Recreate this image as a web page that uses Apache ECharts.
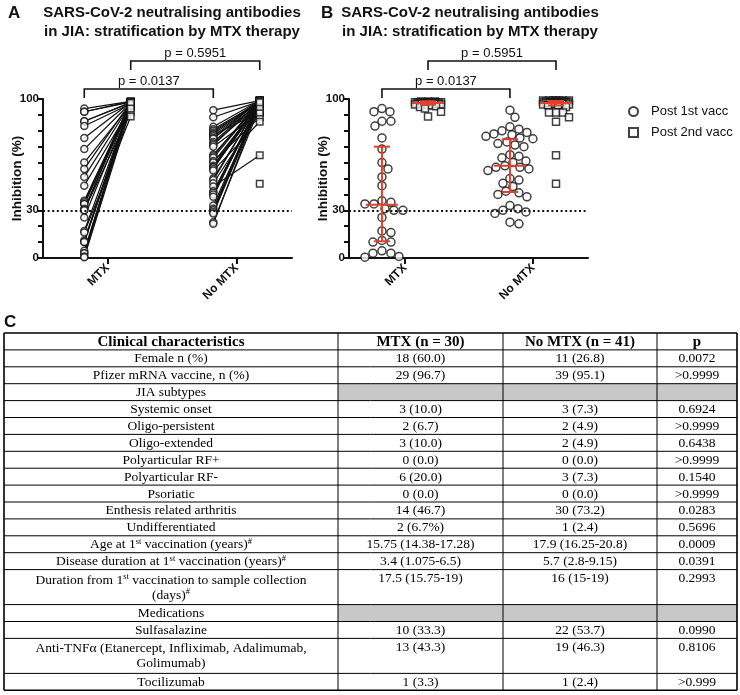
<!DOCTYPE html>
<html>
<head>
<meta charset="utf-8">
<script src="https://cdn.jsdelivr.net/npm/echarts@6/dist/echarts.min.js"></script>
<style>
  body { margin: 0; background: #fff; }
  #main { width: 740px; height: 695px; }
</style>
</head>
<body>
<div id="main"></div>
<script>
// groups on the x axis
const groups = ["MTX", "No MTX"];
const pTexts = ["p = 0.0137", "p = 0.5951"];

// % inhibition per subject (same order in post1 / post2 so lines pair up)
const mtxPost1 = [94, 92, 92, 86, 86, 83, 75.5, 68.5, 60, 56, 51, 45.5, 36, 35, 34, 34, 31, 30, 30, 25.5, 17, 16, 11, 10, 10, 4.5, 3, 3, 1, 0.5];
const mtxPost2 = [98.5, 98, 98.5, 97.5, 98, 97, 98, 97.5, 96.5, 98, 97, 95, 98, 97.5, 96, 98, 97, 92, 98.5, 97, 96.5, 89, 98, 97.5, 95.5, 97, 98, 96, 97.5, 94];
const noMtxPost1 = [93, 88.5, 82.5, 81, 80, 79, 78, 77.5, 76.5, 75.5, 75, 73, 72, 71, 70, 65, 64, 63, 61, 60, 58, 57, 57, 56, 55, null, 50, 49, 47, 45, 42, 41, 40, 38.5, 33, 31, 30, 29, 28, 22.5, 21.5];
const noMtxPost2 = [99, 98.5, 99, 98, 97.5, 99, 98, 91.5, 98.5, 97, 99, 98, 96.5, 98.5, 91.5, 97.5, 99, 98, 88.5, 97, 98.5, 99, 96, 98, 85.7, 46.7, 97.5, 98, 91.5, 64.6, 97, 98.5, 96.5, 99, 97.5, 98, 96, 98.5, 97, 95, 98];

// median and interquartile range (post1 MTX, post2 MTX, post1 No MTX, post2 No MTX)
const medians = [33.5, 97.5, 58, 97.5];
const q1s = [10.5, 96.5, 41.5, 96];
const q3s = [70, 98.5, 74.7, 98.7];

// table C
const tableHeader = ["Clinical characteristics", "MTX (n = 30)", "No MTX (n = 41)", "p"];
const characteristics = [
  "Female n (%)", "Pfizer mRNA vaccine, n (%)", "JIA subtypes", "Systemic onset", "Oligo-persistent",
  "Oligo-extended", "Polyarticular RF+", "Polyarticular RF-", "Psoriatic", "Enthesis related arthritis",
  "Undifferentiated", "Age at 1{s|st} vaccination (years){s|#}", "Disease duration at 1{s|st} vaccination (years){s|#}",
  "Duration from 1{s|st} vaccination to sample collection\n(days){s|#}", "Medications", "Sulfasalazine",
  "Anti-TNFα (Etanercept, Infliximab, Adalimumab,\nGolimumab)", "Tocilizumab"
];
const mtxCol = ["18 (60.0)", "29 (96.7)", null, "3 (10.0)", "2 (6.7)", "3 (10.0)", "0 (0.0)", "6 (20.0)", "0 (0.0)", "14 (46.7)",
  "2 (6.7%)", "15.75 (14.38-17.28)", "3.4 (1.075-6.5)", "17.5 (15.75-19)", null, "10 (33.3)", "13 (43.3)", "1 (3.3)"];
const noMtxCol = ["11 (26.8)", "39 (95.1)", null, "3 (7.3)", "2 (4.9)", "2 (4.9)", "0 (0.0)", "3 (7.3)", "0 (0.0)", "30 (73.2)",
  "1 (2.4)", "17.9 (16.25-20.8)", "5.7 (2.8-9.15)", "16 (15-19)", null, "22 (53.7)", "19 (46.3)", "1 (2.4)"];
const pCol = ["0.0072", ">0.9999", null, "0.6924", ">0.9999", "0.6438", ">0.9999", "0.1540", ">0.9999", "0.0283",
  "0.5696", "0.0009", "0.0391", "0.2993", null, "0.0990", "0.8106", ">0.999"];

const SANS = "'Liberation Sans', Arial, sans-serif";
const SERIF = "'Liberation Serif', 'Times New Roman', serif";
const INK = "#111";
const RED = "#e2412c";
const OFF = 0.18;       // dot offset of post1 / post2 around the group tick
const Y_PX = 159 / 100; // px per % on y
const X_PX = 128;       // px per unit on x

const xPos = (g, k) => g + 1 + (k === 0 ? -OFF : OFF);

// simple beeswarm so the points in panel B do not sit on top of each other
function swarm(vals, cx, diam, maxHalf) {
  const placed = [];
  const out = [];
  const order = vals.map((v, i) => i).filter((i) => vals[i] != null).sort((a, b) => vals[b] - vals[a]);
  for (const i of order) {
    const y = vals[i] * Y_PX;
    let best = 0, bestScore = -Infinity;
    for (let k = 0; k <= 2 * maxHalf; k++) {
      const off = (k % 2 ? 1 : -1) * Math.ceil(k / 2);
      let minD = Infinity;
      for (const p of placed) {
        const d = Math.hypot(p[0] - off, p[1] - y);
        if (d < minD) minD = d;
      }
      if (minD >= diam) { best = off; break; }
      if (minD > bestScore) { bestScore = minD; best = off; }
    }
    placed.push([best, y]);
    out.push([cx + best / X_PX, vals[i]]);
  }
  return out;
}

const chart = echarts.init(document.getElementById("main"));

const gridA = { left: 43, top: 99, width: 249, height: 159 };
const gridB = { left: 349, top: 99, width: 239, height: 159 };

function yAxis(idx) {
  return {
    type: "value", gridIndex: idx, min: 0, max: 100, interval: 10,
    name: "Inhibition (%)", nameLocation: "middle", nameGap: 19, nameMoveOverlap: false,
    nameTextStyle: { fontFamily: SANS, fontWeight: "bold", fontSize: 13.5, color: INK },
    axisLine: { show: true, lineStyle: { color: INK, width: 2 } },
    axisTick: { show: true, length: 5, lineStyle: { color: INK, width: 2 } },
    axisLabel: { customValues: [0, 30, 100], margin: 4, fontFamily: SANS, fontWeight: "bold", fontSize: 11.5, color: INK },
    splitLine: { show: false },
  };
}
function xAxis(idx, min) {
  return {
    type: "value", gridIndex: idx, min: min, max: 2.43,
    axisLine: { show: true, onZero: false, lineStyle: { color: INK, width: 2 } },
    axisTick: { show: true, customValues: [1, 2], length: 6, lineStyle: { color: INK, width: 2 } },
    axisLabel: {
      customValues: [1, 2], rotate: 45, margin: 8,
      formatter: (v) => groups[Math.round(v) - 1],
      fontFamily: SANS, fontWeight: "bold", fontSize: 12, color: INK,
    },
    splitLine: { show: false },
  };
}

const dottedLine = {
  silent: true, symbol: "none", label: { show: false },
  lineStyle: { color: INK, type: [2, 2.6], width: 2 },
  data: [{ yAxis: 30 }],
};

const circleStyle = { color: "#fff", borderColor: INK, borderWidth: 1.5 };

function bracketSeries(idx) {
  return {
    type: "custom", xAxisIndex: idx, yAxisIndex: idx, silent: true, clip: false, z: 5,
    data: [[xPos(0, 0), xPos(1, 0), 0], [xPos(0, 1), xPos(1, 1), 1]],
    encode: { x: [0, 1], y: 2 },
    renderItem: (params, api) => {
      const a = api.coord([api.value(0), 100]);
      const b = api.coord([api.value(1), 100]);
      const lvl = api.value(2);
      const top = a[1] - (lvl ? 38 : 10);
      const bottom = a[1] - (lvl ? 29 : 1);
      return {
        type: "group",
        children: [
          {
            type: "polyline",
            shape: { points: [[a[0], bottom], [a[0], top], [b[0], top], [b[0], bottom]] },
            style: { stroke: INK, lineWidth: 1.6, fill: null },
          },
          {
            type: "text",
            style: {
              x: (a[0] + b[0]) / 2, y: top - 1, text: pTexts[params.dataIndex],
              align: "center", verticalAlign: "bottom", fill: INK, fontFamily: SANS, fontSize: 13,
            },
          },
        ],
      };
    },
  };
}

// panel A: paired lines
const pairLines = [];
mtxPost1.forEach((v, i) => {
  if (v != null && mtxPost2[i] != null) pairLines.push({ coords: [[xPos(0, 0), v], [xPos(0, 1), mtxPost2[i]]] });
});
noMtxPost1.forEach((v, i) => {
  if (v != null && noMtxPost2[i] != null) pairLines.push({ coords: [[xPos(1, 0), v], [xPos(1, 1), noMtxPost2[i]]] });
});

const ptsA1 = mtxPost1.map((v) => [xPos(0, 0), v]).concat(noMtxPost1.filter((v) => v != null).map((v) => [xPos(1, 0), v]));
const ptsA2 = mtxPost2.map((v) => [xPos(0, 1), v]).concat(noMtxPost2.map((v) => [xPos(1, 1), v]));

const ptsB1 = swarm(mtxPost1, xPos(0, 0), 8.4, 24).concat(swarm(noMtxPost1, xPos(1, 0), 8.4, 24));
const ptsB2 = swarm(mtxPost2, xPos(0, 1), 7, 13).concat(swarm(noMtxPost2, xPos(1, 1), 7, 13));

const errData = [[xPos(0, 0), 0], [xPos(0, 1), 1], [xPos(1, 0), 2], [xPos(1, 1), 3]].map(([x, k]) => [x, medians[k], q1s[k], q3s[k]]);

// table graphic
const colX = [4, 338, 503, 657, 737];
const SINGLE = 16.9, DOUBLE = 35;
const tableTop = 333;
const tableEls = [];
const rich = { s: { fontSize: 8.5, fontFamily: SERIF, verticalAlign: "top", lineHeight: 14 } };
function cellText(x, y, text, bold) {
  tableEls.push({
    type: "text", silent: true,
    style: {
      x: x, y: y, text: text, align: "center", verticalAlign: "middle", fill: "#000",
      fontFamily: SERIF, fontSize: bold ? 15 : 13.5, fontWeight: bold ? "bold" : "normal", lineHeight: 15, rich: rich,
    },
  });
}
let yCur = tableTop;
const rowLines = [tableTop];
// header
tableHeader.forEach((t, c) => cellText((colX[c] + colX[c + 1]) / 2, yCur + SINGLE / 2 + 0.5, t, true));
yCur += SINGLE;
rowLines.push(yCur);
characteristics.forEach((label, r) => {
  const h = label.includes("\n") ? DOUBLE : SINGLE;
  if (mtxCol[r] == null) {
    tableEls.push({ type: "rect", silent: true, shape: { x: colX[1], y: yCur, width: colX[4] - colX[1], height: h }, style: { fill: "#c8c8c8" } });
  }
  cellText((colX[0] + colX[1]) / 2, yCur + h / 2 + 0.5, label, false);
  [mtxCol, noMtxCol, pCol].forEach((col, c) => {
    if (col[r] != null) cellText((colX[c + 1] + colX[c + 2]) / 2, yCur + SINGLE / 2 + 0.5, col[r], false);
  });
  yCur += h;
  rowLines.push(yCur);
});
rowLines.forEach((y, i) => {
  const outer = i === 0 || i === rowLines.length - 1;
  tableEls.push({ type: "line", silent: true, shape: { x1: colX[0], y1: y, x2: colX[4], y2: y }, style: { stroke: "#000", lineWidth: outer ? 1.6 : 1 } });
});
colX.forEach((x, i) => {
  const outer = i === 0 || i === colX.length - 1;
  tableEls.push({ type: "line", silent: true, shape: { x1: x, y1: tableTop, x2: x, y2: yCur }, style: { stroke: "#000", lineWidth: outer ? 1.6 : 1 } });
});

function txt(x, y, text, size, bold, align) {
  return {
    type: "text", silent: true,
    style: { x, y, text, fill: INK, fontFamily: SANS, fontSize: size, fontWeight: bold ? "bold" : "normal", align: align || "center", verticalAlign: "middle" },
  };
}

const option = {
  backgroundColor: "#fff",
  animation: false,
  grid: [gridA, gridB],
  xAxis: [xAxis(0, 0.5), xAxis(1, 0.5625)],
  yAxis: [yAxis(0), yAxis(1)],
  legend: {
    data: ["Post 1st vacc", "Post 2nd vacc"],
    orient: "vertical", left: 623, top: 100, itemWidth: 9, itemHeight: 9, itemGap: 8,
    textStyle: { fontFamily: SANS, fontSize: 13, color: INK, padding: [0, 0, 0, 8] },
    selectedMode: false,
  },
  graphic: [
    txt(8, 13, "A", 17, true, "left"),
    txt(172, 13, "SARS-CoV-2 neutralising antibodies", 15, true),
    txt(172, 32, "in JIA: stratification by MTX therapy", 15, true),
    txt(321, 13, "B", 17, true, "left"),
    txt(470, 13, "SARS-CoV-2 neutralising antibodies", 15, true),
    txt(470, 32, "in JIA: stratification by MTX therapy", 15, true),
    txt(4, 322, "C", 17, true, "left"),
  ].concat(tableEls),
  series: [
    {
      type: "lines", coordinateSystem: "cartesian2d", xAxisIndex: 0, yAxisIndex: 0, silent: true, z: 1,
      lineStyle: { color: INK, width: 1.2, opacity: 1 },
      data: pairLines,
    },
    {
      name: "Post 1st vacc", type: "scatter", xAxisIndex: 0, yAxisIndex: 0, z: 3,
      symbol: "circle", symbolSize: 7, itemStyle: circleStyle, data: ptsA1,
      markLine: dottedLine,
    },
    {
      name: "Post 2nd vacc", type: "scatter", xAxisIndex: 0, yAxisIndex: 0, z: 3,
      symbol: "rect", symbolSize: 6.5, itemStyle: circleStyle, data: ptsA2,
    },
    bracketSeries(0),
    {
      name: "Post 1st vacc", type: "scatter", xAxisIndex: 1, yAxisIndex: 1, z: 3,
      symbol: "circle", symbolSize: 8, itemStyle: circleStyle, data: ptsB1,
      markLine: dottedLine,
    },
    {
      name: "Post 2nd vacc", type: "scatter", xAxisIndex: 1, yAxisIndex: 1, z: 3,
      symbol: "rect", symbolSize: 7, itemStyle: circleStyle, data: ptsB2,
    },
    {
      type: "custom", xAxisIndex: 1, yAxisIndex: 1, silent: true, z: 6,
      data: errData,
      encode: { x: 0, y: [1, 2, 3] },
      renderItem: (params, api) => {
        const c = api.coord([api.value(0), api.value(1)]);
        const lo = api.coord([api.value(0), api.value(2)]);
        const hi = api.coord([api.value(0), api.value(3)]);
        const st = { stroke: RED, lineWidth: 2 };
        return {
          type: "group",
          children: [
            { type: "line", shape: { x1: c[0] - 16, y1: c[1], x2: c[0] + 16, y2: c[1] }, style: st },
            { type: "line", shape: { x1: c[0], y1: lo[1], x2: c[0], y2: hi[1] }, style: st },
            { type: "line", shape: { x1: c[0] - 8, y1: lo[1], x2: c[0] + 8, y2: lo[1] }, style: st },
            { type: "line", shape: { x1: c[0] - 8, y1: hi[1], x2: c[0] + 8, y2: hi[1] }, style: st },
          ],
        };
      },
    },
    bracketSeries(1),
  ],
};

chart.setOption(option);
</script>
</body>
</html>
